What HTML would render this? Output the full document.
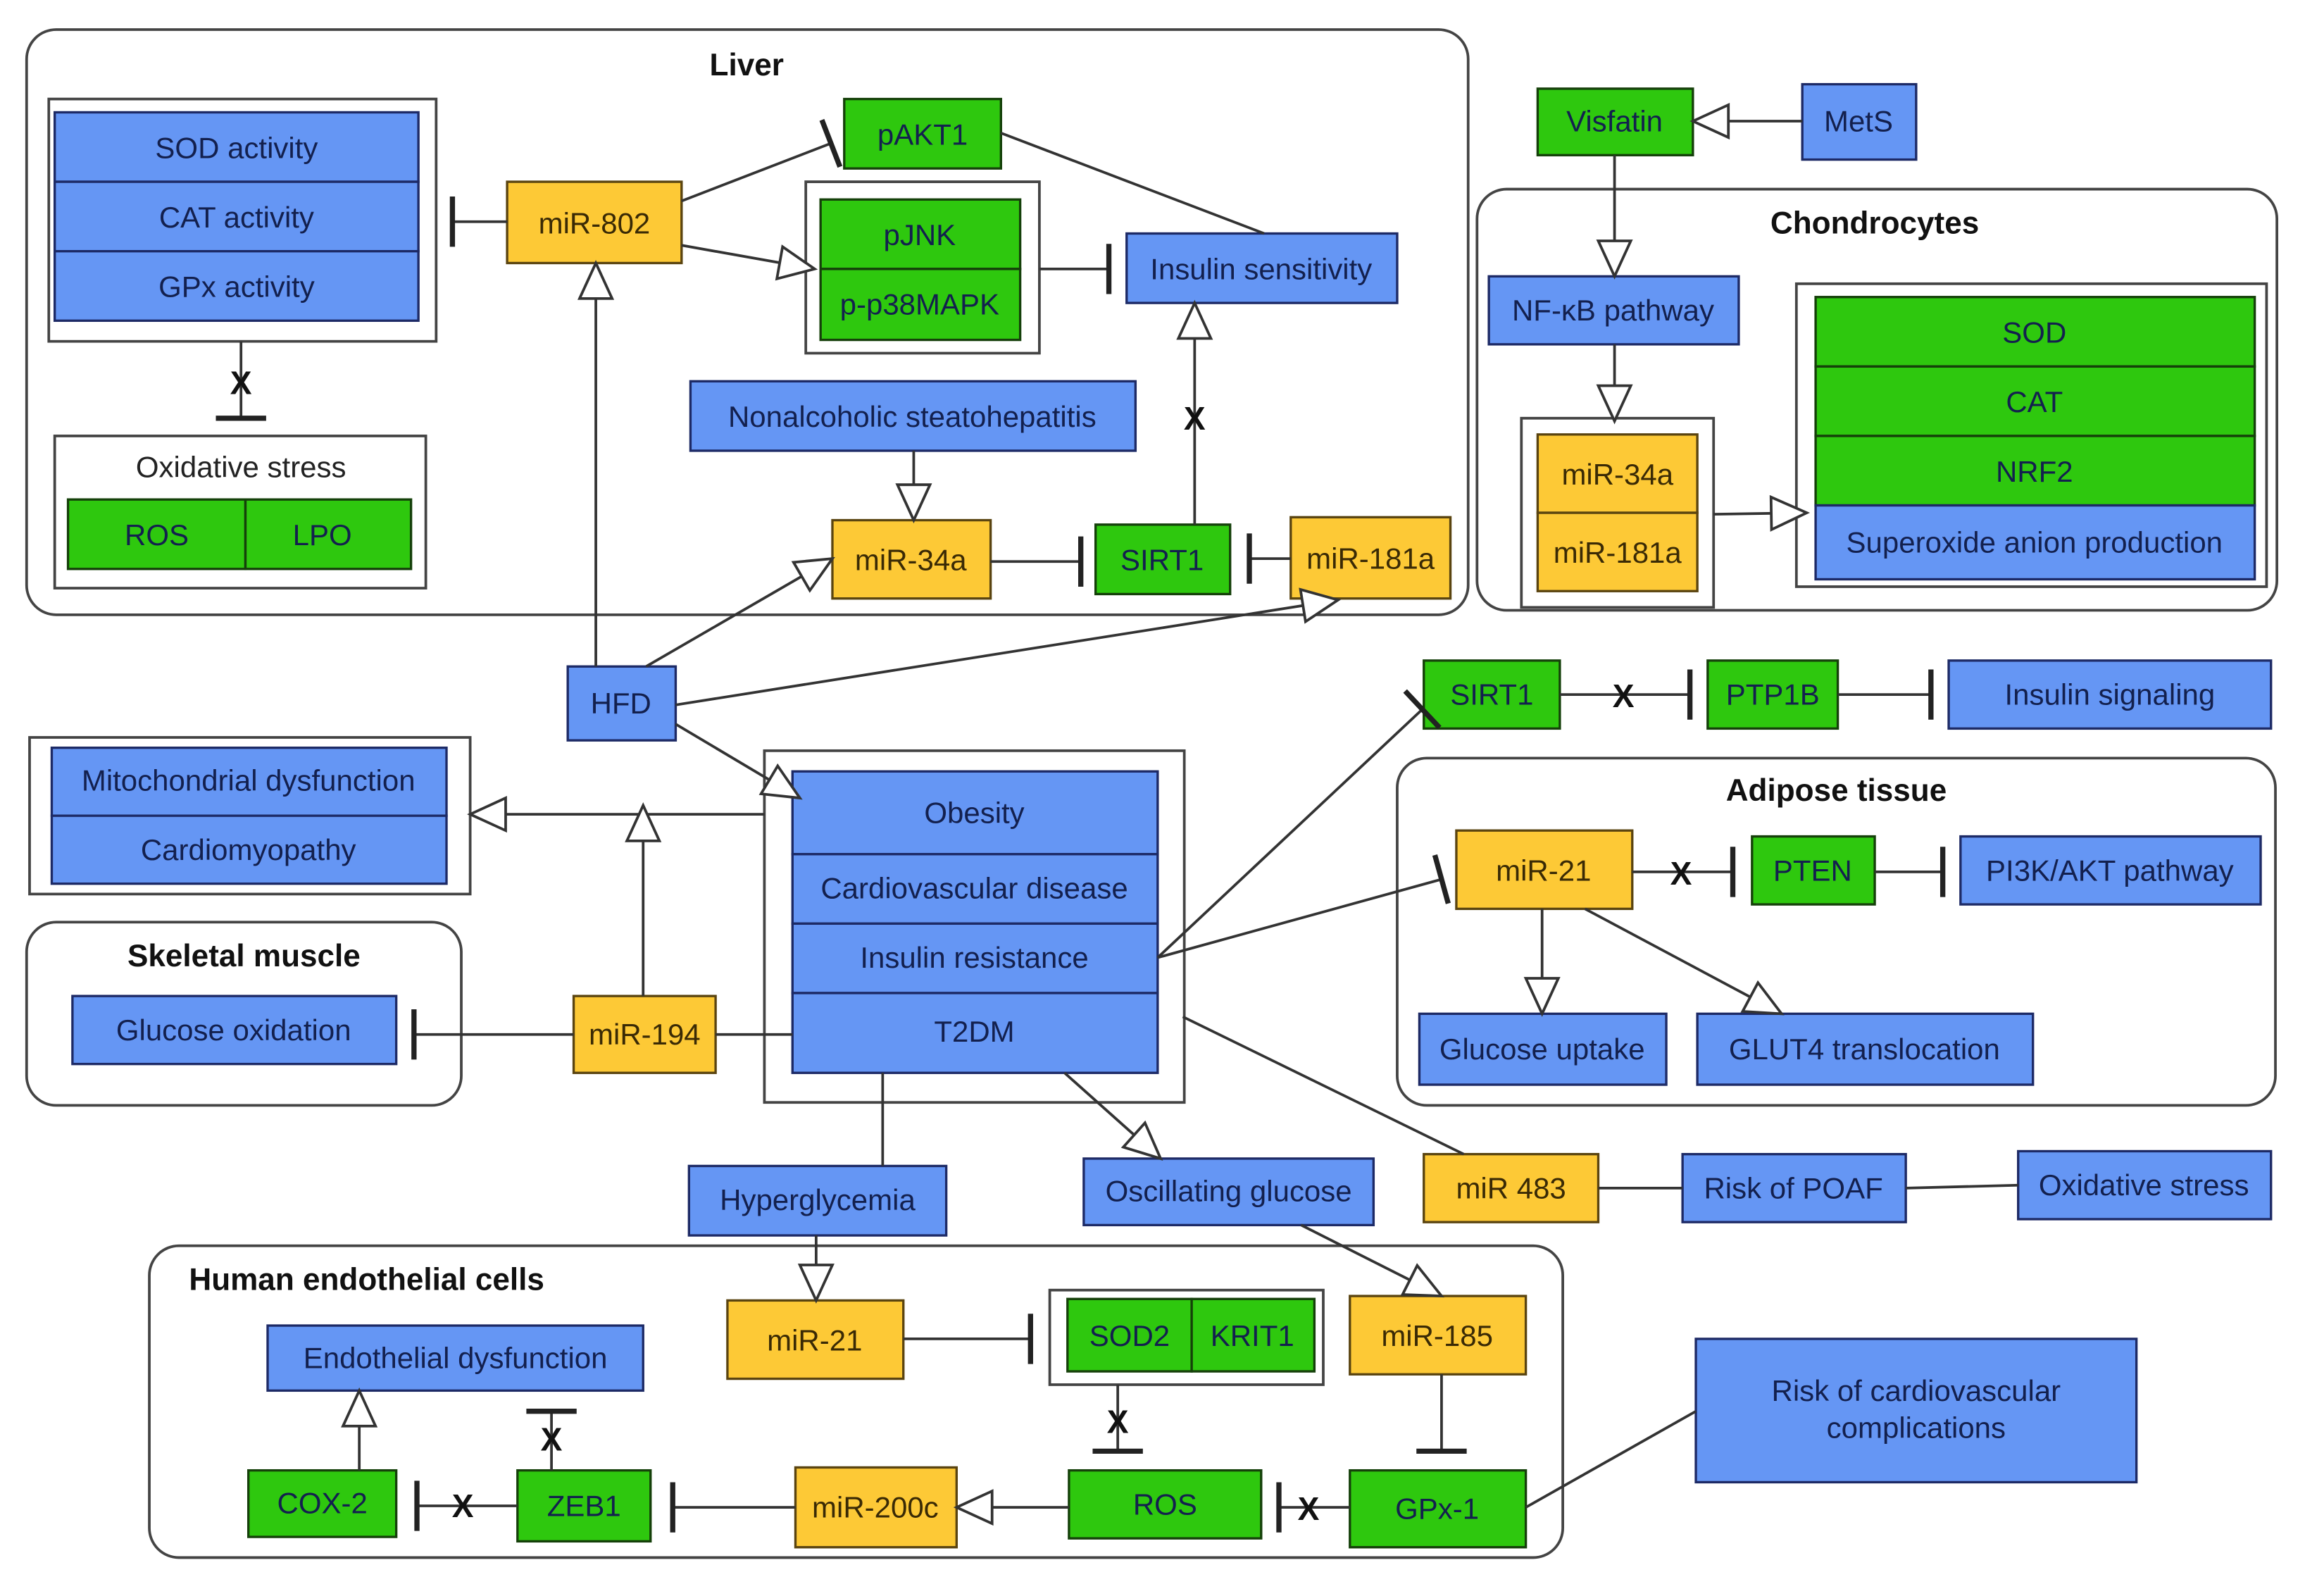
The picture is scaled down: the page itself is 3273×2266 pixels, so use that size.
<!DOCTYPE html>
<html><head><meta charset="utf-8"><style>
html,body{margin:0;padding:0;background:#fff;}
svg{display:block;}
text{font-family:"Liberation Sans",sans-serif;font-size:20px;fill:#13204e;text-anchor:middle;dominant-baseline:central;}
.t{font-weight:bold;fill:#111;font-size:21px;}
.x{font-weight:bold;fill:#111;font-size:22px;}
.b{fill:#6596f4;stroke:#1d2a66;stroke-width:1.6;}
.g{fill:#2ec80e;stroke:#15400a;stroke-width:1.6;}
.o{fill:#fdc936;stroke:#5a4410;stroke-width:1.6;}
.w{fill:#fff;stroke:#444;stroke-width:1.8;}
.c{fill:none;stroke:#444;stroke-width:1.8;}
.l{fill:none;stroke:#333;stroke-width:1.8;}
.a{marker-end:url(#tri);}
.i{marker-end:url(#tee);}
</style></head><body>
<svg width="3273" height="2266" viewBox="0 0 1559 1080" preserveAspectRatio="none" xmlns="http://www.w3.org/2000/svg">
<defs>
<marker id="tri" markerUnits="userSpaceOnUse" markerWidth="30" markerHeight="30" viewBox="-2 -2 30 30" refX="24" refY="11" orient="auto"><path d="M0,0 L24,11 L0,22 Z" fill="#fff" stroke="#333" stroke-width="1.8"/></marker>
<marker id="tee" markerUnits="userSpaceOnUse" markerWidth="10" markerHeight="40" viewBox="-4 -20 10 40" refX="0" refY="0" orient="auto"><path d="M0,-17 V17" stroke="#222" stroke-width="3.5"/></marker>
</defs>

<!-- containers -->
<rect class="c" x="18" y="20" width="975" height="396" rx="20"/>
<text class="t" x="505" y="44">Liver</text>
<rect class="c" x="999" y="128" width="541" height="285" rx="20"/>
<text class="t" x="1268" y="151">Chondrocytes</text>
<rect class="c" x="945" y="513" width="594" height="235" rx="20"/>
<text class="t" x="1242" y="535">Adipose tissue</text>
<rect class="c" x="18" y="624" width="294" height="124" rx="20"/>
<text class="t" x="165" y="647">Skeletal muscle</text>
<rect class="c" x="101" y="843" width="956" height="211" rx="20"/>
<text class="t" x="248" y="866">Human endothelial cells</text>

<!-- Liver nodes -->
<rect class="w" x="33" y="67" width="262" height="164"/>
<rect class="b" x="37" y="76" width="246" height="47"/><text x="160" y="100">SOD activity</text>
<rect class="b" x="37" y="123" width="246" height="47"/><text x="160" y="147">CAT activity</text>
<rect class="b" x="37" y="170" width="246" height="47"/><text x="160" y="194">GPx activity</text>
<rect class="w" x="37" y="295" width="251" height="103"/>
<text x="163" y="316" style="fill:#222">Oxidative stress</text>
<rect class="g" x="46" y="338" width="120" height="47"/><text x="106" y="362">ROS</text>
<rect class="g" x="166" y="338" width="112" height="47"/><text x="218" y="362">LPO</text>
<rect class="o" x="343" y="123" width="118" height="55"/><text x="402" y="151" style="fill:#3a2a05">miR-802</text>
<rect class="g" x="571" y="67" width="106" height="47"/><text x="624" y="91">pAKT1</text>
<rect class="w" x="545" y="123" width="158" height="116"/>
<rect class="g" x="555" y="135" width="135" height="47"/><text x="622" y="159">pJNK</text>
<rect class="g" x="555" y="182" width="135" height="48"/><text x="622" y="206">p-p38MAPK</text>
<rect class="b" x="762" y="158" width="183" height="47"/><text x="853" y="182">Insulin sensitivity</text>
<rect class="b" x="467" y="258" width="301" height="47"/><text x="617" y="282">Nonalcoholic steatohepatitis</text>
<rect class="o" x="563" y="352" width="107" height="53"/><text x="616" y="379" style="fill:#3a2a05">miR-34a</text>
<rect class="g" x="741" y="355" width="91" height="47"/><text x="786" y="379">SIRT1</text>
<rect class="o" x="873" y="350" width="108" height="55"/><text x="927" y="378" style="fill:#3a2a05">miR-181a</text>
<rect class="b" x="384" y="451" width="73" height="50"/><text x="420" y="476">HFD</text>

<!-- Chondrocytes -->
<rect class="g" x="1040" y="60" width="105" height="45"/><text x="1092" y="82">Visfatin</text>
<rect class="b" x="1219" y="57" width="77" height="51"/><text x="1257" y="82">MetS</text>
<rect class="b" x="1007" y="187" width="169" height="46"/><text x="1091" y="210">NF-κB pathway</text>
<rect class="w" x="1029" y="283" width="130" height="128"/>
<rect class="o" x="1040" y="294" width="108" height="53"/><text x="1094" y="321" style="fill:#3a2a05">miR-34a</text>
<rect class="o" x="1040" y="347" width="108" height="53"/><text x="1094" y="374" style="fill:#3a2a05">miR-181a</text>
<rect class="w" x="1215" y="192" width="318" height="205"/>
<rect class="g" x="1228" y="201" width="297" height="47"/><text x="1376" y="225">SOD</text>
<rect class="g" x="1228" y="248" width="297" height="47"/><text x="1376" y="272">CAT</text>
<rect class="g" x="1228" y="295" width="297" height="47"/><text x="1376" y="319">NRF2</text>
<rect class="b" x="1228" y="342" width="297" height="50"/><text x="1376" y="367">Superoxide anion production</text>

<!-- right top -->
<rect class="g" x="963" y="447" width="92" height="46"/><text x="1009" y="470">SIRT1</text>
<rect class="g" x="1155" y="447" width="88" height="46"/><text x="1199" y="470">PTP1B</text>
<rect class="b" x="1318" y="447" width="218" height="46"/><text x="1427" y="470">Insulin signaling</text>

<!-- Adipose -->
<rect class="o" x="985" y="562" width="119" height="53"/><text x="1044" y="589" style="fill:#3a2a05">miR-21</text>
<rect class="g" x="1185" y="566" width="83" height="46"/><text x="1226" y="589">PTEN</text>
<rect class="b" x="1326" y="566" width="203" height="46"/><text x="1427" y="589">PI3K/AKT pathway</text>
<rect class="b" x="960" y="686" width="167" height="48"/><text x="1043" y="710">Glucose uptake</text>
<rect class="b" x="1148" y="686" width="227" height="48"/><text x="1261" y="710">GLUT4 translocation</text>

<!-- Left middle -->
<rect class="w" x="20" y="499" width="298" height="106"/>
<rect class="b" x="35" y="506" width="267" height="46"/><text x="168" y="528">Mitochondrial dysfunction</text>
<rect class="b" x="35" y="552" width="267" height="46"/><text x="168" y="575">Cardiomyopathy</text>
<rect class="b" x="49" y="674" width="219" height="46"/><text x="158" y="697">Glucose oxidation</text>
<rect class="o" x="388" y="674" width="96" height="52"/><text x="436" y="700" style="fill:#3a2a05">miR-194</text>

<!-- Central -->
<rect class="w" x="517" y="508" width="284" height="238"/>
<rect class="b" x="536" y="522" width="247" height="56"/><text x="659" y="550">Obesity</text>
<rect class="b" x="536" y="578" width="247" height="47"/><text x="659" y="601">Cardiovascular disease</text>
<rect class="b" x="536" y="625" width="247" height="47"/><text x="659" y="648">Insulin resistance</text>
<rect class="b" x="536" y="672" width="247" height="54"/><text x="659" y="698">T2DM</text>

<rect class="b" x="466" y="789" width="174" height="47"/><text x="553" y="812">Hyperglycemia</text>
<rect class="b" x="733" y="784" width="196" height="45"/><text x="831" y="806">Oscillating glucose</text>
<rect class="o" x="963" y="781" width="118" height="46"/><text x="1022" y="804" style="fill:#3a2a05">miR 483</text>
<rect class="b" x="1138" y="781" width="151" height="46"/><text x="1213" y="804">Risk of POAF</text>
<rect class="b" x="1365" y="779" width="171" height="46"/><text x="1450" y="802">Oxidative stress</text>

<!-- Endothelial -->
<rect class="o" x="492" y="880" width="119" height="53"/><text x="551" y="907" style="fill:#3a2a05">miR-21</text>
<rect class="w" x="710" y="873" width="185" height="64"/>
<rect class="g" x="722" y="879" width="84" height="49"/><text x="764" y="904">SOD2</text>
<rect class="g" x="806" y="879" width="83" height="49"/><text x="847" y="904">KRIT1</text>
<rect class="o" x="913" y="877" width="119" height="53"/><text x="972" y="904" style="fill:#3a2a05">miR-185</text>
<rect class="b" x="181" y="897" width="254" height="44"/><text x="308" y="919">Endothelial dysfunction</text>
<rect class="g" x="168" y="995" width="100" height="45"/><text x="218" y="1017">COX-2</text>
<rect class="g" x="350" y="995" width="90" height="48"/><text x="395" y="1019">ZEB1</text>
<rect class="o" x="538" y="993" width="109" height="54"/><text x="592" y="1020" style="fill:#3a2a05">miR-200c</text>
<rect class="g" x="723" y="995" width="130" height="46"/><text x="788" y="1018">ROS</text>
<rect class="g" x="913" y="995" width="119" height="52"/><text x="972" y="1021">GPx-1</text>
<rect class="b" x="1147" y="906" width="298" height="97"/>
<text x="1296" y="941">Risk of cardiovascular</text>
<text x="1296" y="966">complications</text>

<!-- connectors -->
<g class="l">
<line class="i" x1="163" y1="231" x2="163" y2="283"/>
<line class="i" x1="343" y1="150" x2="306" y2="150"/>
<line class="i" x1="461" y1="136" x2="562" y2="97"/>
<line class="a" x1="461" y1="166" x2="551" y2="182"/>
<line class="i" x1="703" y1="182" x2="750" y2="182"/>
<line x1="677" y1="90" x2="855" y2="158"/>
<line class="a" x1="618" y1="305" x2="618" y2="352"/>
<line class="i" x1="670" y1="380" x2="731" y2="380"/>
<line class="i" x1="873" y1="378" x2="845" y2="378"/>
<line class="a" x1="808" y1="355" x2="808" y2="205"/>
<line class="a" x1="403" y1="451" x2="403" y2="178"/>
<line class="a" x1="437" y1="451" x2="563" y2="378"/>
<line class="a" x1="457" y1="477" x2="905" y2="406"/>
<line class="a" x1="457" y1="490" x2="541" y2="540"/>
<line class="a" x1="1219" y1="82" x2="1145" y2="82"/>
<line class="a" x1="1092" y1="105" x2="1092" y2="187"/>
<line class="a" x1="1092" y1="233" x2="1092" y2="285"/>
<line class="a" x1="1159" y1="348" x2="1222" y2="347"/>
<line class="i" x1="783" y1="648" x2="962" y2="480"/>
<line class="i" x1="1055" y1="470" x2="1143" y2="470"/>
<line class="i" x1="1243" y1="470" x2="1306" y2="470"/>
<line class="i" x1="783" y1="648" x2="975" y2="595"/>
<line class="i" x1="1104" y1="590" x2="1172" y2="590"/>
<line class="i" x1="1268" y1="590" x2="1314" y2="590"/>
<line class="a" x1="1043" y1="615" x2="1043" y2="686"/>
<line class="a" x1="1072" y1="615" x2="1205" y2="686"/>
<line class="a" x1="517" y1="551" x2="318" y2="551"/>
<line class="a" x1="435" y1="674" x2="435" y2="545"/>
<line class="i" x1="388" y1="700" x2="280" y2="700"/>
<line x1="484" y1="700" x2="536" y2="700"/>
<line x1="597" y1="726" x2="597" y2="789"/>
<line class="a" x1="720" y1="726" x2="785" y2="784"/>
<line x1="800" y1="688" x2="990" y2="781"/>
<line x1="1081" y1="804" x2="1138" y2="804"/>
<line x1="1289" y1="804" x2="1365" y2="802"/>
<line class="a" x1="552" y1="836" x2="552" y2="880"/>
<line class="i" x1="611" y1="906" x2="697" y2="906"/>
<line class="a" x1="880" y1="829" x2="975" y2="877"/>
<line class="a" x1="243" y1="995" x2="243" y2="941"/>
<line class="i" x1="350" y1="1019" x2="282" y2="1019"/>
<line class="i" x1="373" y1="995" x2="373" y2="955"/>
<line class="i" x1="538" y1="1020" x2="455" y2="1020"/>
<line class="a" x1="723" y1="1020" x2="647" y2="1020"/>
<line class="i" x1="756" y1="937" x2="756" y2="982"/>
<line class="i" x1="913" y1="1020" x2="865" y2="1020"/>
<line class="i" x1="975" y1="930" x2="975" y2="982"/>
<line x1="1032" y1="1020" x2="1147" y2="955"/>
</g>
<!-- X marks -->
<text class="x" x="163" y="259">X</text>
<text class="x" x="808" y="283">X</text>
<text class="x" x="1098" y="471">X</text>
<text class="x" x="1137" y="591">X</text>
<text class="x" x="313" y="1019">X</text>
<text class="x" x="373" y="974">X</text>
<text class="x" x="756" y="962">X</text>
<text class="x" x="885" y="1021">X</text>
</svg>
</body></html>
